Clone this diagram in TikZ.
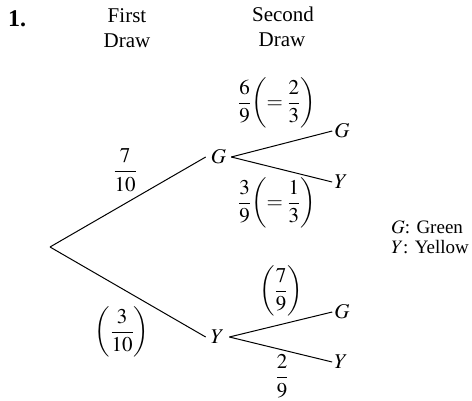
\documentclass[tikz,border=0pt]{standalone}
\usepackage{mathptmx}
\usepackage[no-math]{fontspec}
\setmainfont{Liberation Serif}
\begin{document}
\begin{tikzpicture}[x=1pt,y=-1pt,
  every node/.style={font=\fontsize{21}{25}\selectfont, inner sep=0pt},
  branch/.style={line width=1pt},
  mid/.style={inner sep=5pt},
  leaf/.style={inner sep=2pt},
  legend/.style={anchor=base west, font=\fontsize{19}{23}\selectfont}]
\useasboundingbox (0,0) rectangle (472,401);
% headings
\node[anchor=base west, font=\fontsize{24}{28}\selectfont\bfseries] (num) at (8,27) {1.};
\node[anchor=base] (h1a) at (127,23) {First};
\node[anchor=base] (h1b) at (127,48) {Draw};
\node[anchor=base] (h2a) at (283,22) {Second};
\node[anchor=base] (h2b) at (282,47) {Draw};
% tree nodes
\coordinate (root) at (50,247);
\node[mid] (G1) at (218.5,157) {$G$};
\node[mid] (Y1) at (217.5,337) {$Y$};
\node[leaf] (G2) at (342,131) {$G$};
\node[leaf] (Y2) at (341,182) {$Y$};
\node[leaf] (G3) at (342,312) {$G$};
\node[leaf] (Y3) at (341,362) {$Y$};
% branches
\draw[branch] (root) -- (G1.west);
\draw[branch] (root) -- (Y1.west);
\draw[branch] (G1.east) -- (G2.west);
\draw[branch] (G1.east) -- (Y2.west);
\draw[branch] (Y1.east) -- (G3.west);
\draw[branch] (Y1.east) -- (Y3.west);
% probabilities
\node (p1) at (125,170) {$\displaystyle\frac{7}{10}$};
\node (p2) at (122,332) {$\displaystyle\left(\frac{3}{10}\right)$};
\node (p3) at (277,103) {$\displaystyle\frac{6}{9}\!\left(=\frac{2}{3}\right)$};
\node (p4) at (277,203) {$\displaystyle\frac{3}{9}\!\left(=\frac{1}{3}\right)$};
\node (p5) at (281,291) {$\displaystyle\left(\frac{7}{9}\right)$};
\node (p6) at (282,376) {$\displaystyle\frac{2}{9}$};
% legend
\node[legend] (lg) at (391,234) {$G$: Green};
\node[legend] (ly) at (391,254) {$Y$: Yellow};
\end{tikzpicture}
\end{document}
